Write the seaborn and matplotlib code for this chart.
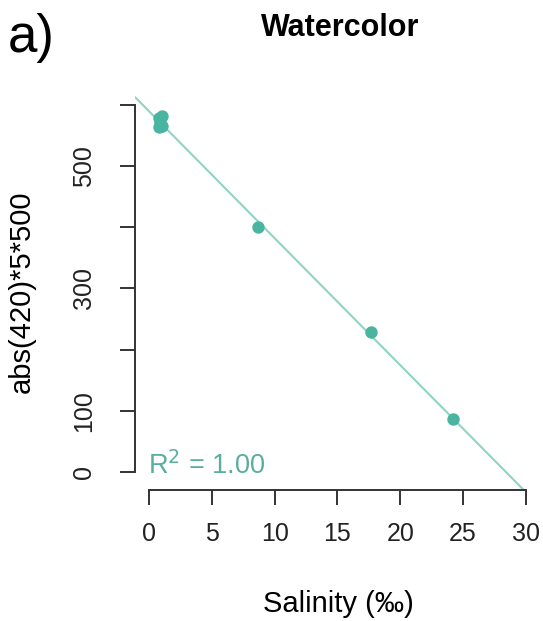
import numpy as np
import pandas as pd
import matplotlib
matplotlib.use("Agg")
import matplotlib.pyplot as plt
import seaborn as sns

# Data
salinity = [0.8, 1.0, 0.9, 0.8, 1.0, 8.70, 17.64, 24.17]
absorbance = [578, 582, 570, 563, 566, 400, 229, 87]
x_ticks = [0, 5, 10, 15, 20, 25, 30]
y_ticks = [0, 100, 200, 300, 400, 500, 600]
y_tick_labels = ["0", "100", "", "300", "", "500", ""]
r2_text = "R$^2$ = 1.00"

df = pd.DataFrame({"Salinity": salinity, "Abs": absorbance})

sns.set_style("ticks")
plt.rcParams["font.family"] = ["Liberation Sans", "DejaVu Sans"]

fig = plt.figure(figsize=(5.43, 6.21), dpi=100)
ax = fig.add_axes([135 / 543, 131 / 621, 406 / 543, 397.4 / 621])

point_col = "#49b5a0"
line_col = "#8fd4c4"
text_col = "#5aae9c"

slope, intercept = np.polyfit(salinity, absorbance, 1)
ax.axline((0, intercept), slope=slope, color=line_col, lw=1.5, zorder=1)
sns.scatterplot(data=df, x="Salinity", y="Abs", ax=ax, color=point_col,
                s=80, edgecolor=point_col, linewidth=0, zorder=3)

ax.set_xlim(-1.114, 31.2)
ax.set_ylim(-29.4, 620)

for s in ["top", "right"]:
    ax.spines[s].set_visible(False)
ax.spines["left"].set_bounds(0, 600)
ax.spines["bottom"].set_bounds(0, 30)
for s in ["left", "bottom"]:
    ax.spines[s].set_color("#333333")
    ax.spines[s].set_linewidth(1.4)

ax.set_xticks(x_ticks)
ax.set_xticklabels([str(t) for t in x_ticks])
ax.set_yticks(y_ticks)
ax.set_yticklabels(y_tick_labels, rotation=90, va="center")
ax.tick_params(axis="x", length=11, width=1.4, color="#333333",
               labelsize=18, labelcolor="#222222", pad=12)
ax.tick_params(axis="y", length=11, width=1.4, color="#333333",
               labelsize=18, labelcolor="#222222", pad=17)

ax.set_xlabel("Salinity (‰)", fontsize=21, labelpad=32, color="black")
ax.set_ylabel("abs(420)*5*500", fontsize=21, labelpad=26, color="black")

ax.text(-0.1, -4, r2_text, color=text_col, fontsize=19.5, ha="left", va="baseline")

fig.text(340 / 543, 1 - 28 / 621, "Watercolor", fontsize=22, fontweight="bold",
         ha="center", va="center", color="black")
fig.text(8 / 543, 1 - 38 / 621, "a)", fontsize=38, ha="left", va="center", color="black")

fig.savefig("out.png", dpi=100)
